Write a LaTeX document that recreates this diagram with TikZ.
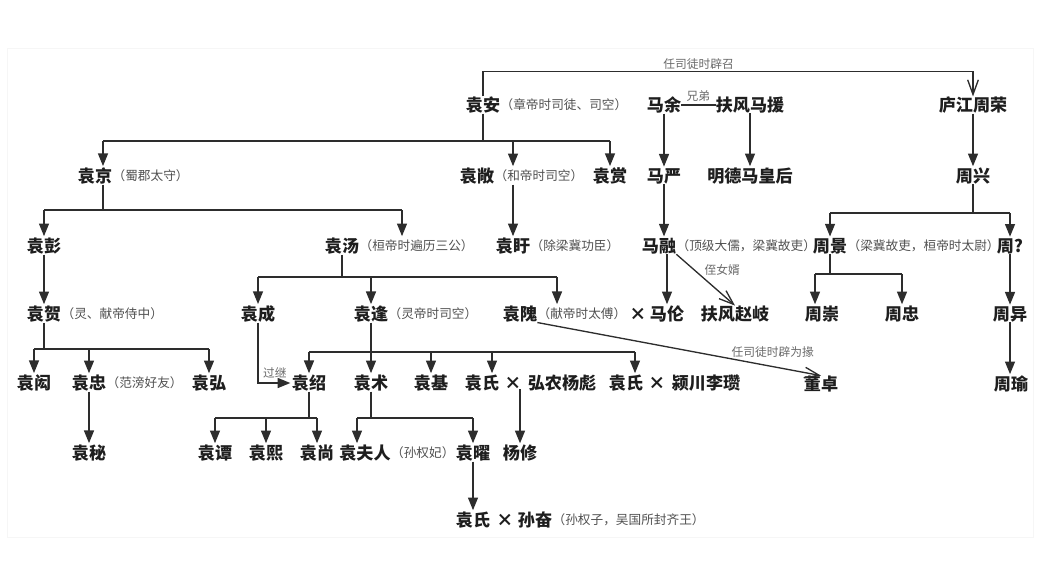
\documentclass[tikz,border=0pt]{standalone}
\usepackage{fontspec}
\setmainfont{Noto Sans CJK SC}
\usetikzlibrary{arrows.meta,positioning,calc}
\definecolor{ink}{RGB}{30,30,30}
\definecolor{wire}{RGB}{45,45,45}
\definecolor{soft}{RGB}{80,80,80}
\definecolor{faint}{RGB}{105,105,105}
\definecolor{edge}{RGB}{246,246,246}
\newcommand\renfont{\fontsize{12.8}{14}\selectfont\bfseries}
\newcommand\notefont{\fontsize{9.5}{11}\selectfont}
\newcommand\lblfont{\fontsize{8.8}{10}\selectfont}
\tikzset{
  ren/.style={font=\renfont, text=ink, inner sep=0pt},
  note/.style={font=\notefont, text=soft, inner sep=0pt},
  lbl/.style={font=\lblfont, text=faint, inner sep=1pt},
  tie/.style={draw=wire, line width=1pt},
  kid/.style={tie, -{Triangle[length=9.5pt,width=7.5pt]}, shorten >=1pt},
  link/.style={tie, -{Straight Barb[length=11pt,width=8pt]}},
}

\begin{document}
\begin{tikzpicture}[x=0.75pt, y=-0.75pt]
  \useasboundingbox (0,0) rectangle (1062,561);
  \draw[edge] (7,48) rectangle (1033,537);
  % people, row by row (px from the top left)
  \foreach \n/\x/\y/\t in {ya/483/105/袁安, my/664/105/马余, fmy/750/105/扶风马援, ljzr/973/105/庐江周荣,
    yj/95/176/袁京, yc/477/176/袁敞, ysh/610/176/袁赏, myan/664/176/马严, mdh/750/176/明德马皇后, zx/973/176/周兴,
    yp/44/246/袁彭, yt/342/246/袁汤, yx/513/246/袁盱, mr/659/246/马融, zj/830/246/周景, zq/1010/246/周?,
    yh/44/314/袁贺, ych/258/314/袁成, yf/371/314/袁逢, yw/520/314/袁隗, ml/667/314/马伦, zhq/735/314/扶风赵岐, zc/822/314/周崇, zz/902/314/周忠, zy/1010/314/周异,
    yhong/34/383/袁闳, yzh/89/383/袁忠, yhg/209/383/袁弘, ysa/309/383/袁绍, ysu/371/383/袁术, yji/431/383/袁基, ysi/482/383/袁氏, yb/562/383/弘农杨彪, ysj/626/383/袁氏, lz/706/383/颍川李瓒, dz/821/384/董卓, zyu/1011/384/周瑜,
    ymi/89/453/袁秘, ytan/215/453/袁谭, yxi/266/453/袁熙, ysg/317/453/袁尚, yfr/365/453/袁夫人, yyao/473/453/袁曜, yxiu/520/453/杨修,
    ysk/473/520/袁氏, sf/535/520/孙奋}
    \node[ren] (\n) at (\x,\y) {\t};
  \foreach \n/\x/\y in {xa/638/314, xb/513/383, xc/657/383, xd/505/520} \node[ren] (\n) at (\x,\y) {×};
  \foreach \n/\t in {ya/章帝时司徒、司空, yj/蜀郡太守, yc/和帝时司空, yt/桓帝时遍历三公, yx/除梁冀功臣, mr/顶级大儒，梁冀故吏,
    zj/梁冀故吏，桓帝时太尉, yh/灵、献帝侍中, yf/灵帝时司空, yw/献帝时太傅, yzh/范滂好友, yfr/孙权妃, sf/孙权子，吴国所封齐王}
    \node[note, right=0pt of \n] (\n-n) {（\t）};

  % buses and arrow feet that sit off the name
  \foreach \b/\y in {ba/141, bj/210, bx/213, bt/277, bz/274, bh/349, bf/352, bs/418} \coordinate (\b) at (0,\y);
  \coordinate (yj-in) at ($(yj.north)+(8,0)$);
  \coordinate (yc-in) at (yx.north |- yc.north);
  \coordinate (yt-in) at ($(yt.north)+(60,0)$);
  \coordinate (yw-in) at ($(yw.north)+(37,0)$);
  \coordinate (zc-in) at ($(zc.north)+(-7,0)$);
  \coordinate (ysi-in) at ($(ysi.north)+(10,0)$);
  \coordinate (ysj-in) at ($(ysj.north)+(9,0)$);
  \coordinate (yfr-in) at ($(yfr.north)+(-8,0)$);

  \draw[link] (ya.north) -- ++(0,-25) -| node[lbl, above, pos=0.22] {任司徒时辟召} (ljzr.north);
  \draw[tie] (my.east) -- node[lbl, above=1pt] {兄弟} (fmy.west);
  \foreach \a/\b in {my/myan, fmy/mdh, ljzr/zx} \draw[kid] (\a.south) -- (\b.north);

  % Yuan An
  \draw[tie] (ya.south) -- (ya.south |- ba);
  \draw[tie] (yj-in |- ba) -- (ysh.north |- ba);
  \foreach \c in {yj-in, yc-in, ysh.north} \draw[kid] (\c |- ba) -- (\c);
  \draw[kid] (yx.north |- yc.south) -- (yx.north);
  % Yuan Jing
  \draw[tie] (yj-in |- yj.south) -- (yj-in |- bj);
  \draw[tie] (yp.north |- bj) -- (yt-in |- bj);
  \foreach \c in {yp.north, yt-in} \draw[kid] (\c |- bj) -- (\c);
  % Zhou Xing
  \draw[tie] (zx.south) -- (zx.south |- bx);
  \draw[tie] (zj.north |- bx) -- (zq.north |- bx);
  \foreach \c in {zj, zq} \draw[kid] (\c.north |- bx) -- (\c.north);
  \draw[kid] (myan.south) -- (myan.south |- mr.north);
  % Yuan Tang
  \draw[tie] (yt.south) -- (yt.south |- bt);
  \draw[tie] (ych.north |- bt) -- (yw-in |- bt);
  \foreach \c in {ych.north, yf.north, yw-in} \draw[kid] (\c |- bt) -- (\c);
  \draw[kid] (yp.south) -- (yh.north);
  \draw[kid] (ml.north |- mr.south) -- (ml.north);
  \draw[link] (mr.south east) -- node[lbl, above right, pos=0.45] {侄女婿} (zhq.north);
  % Zhou Jing
  \draw[tie] (zj.south) -- (zj.south |- bz);
  \draw[tie] (zc-in |- bz) -- (zz.north |- bz);
  \foreach \c in {zc-in, zz.north} \draw[kid] (\c |- bz) -- (\c);
  \draw[kid] (zy.north |- zq.south) -- (zy.north);
  \draw[kid] (zy.south) -- (zy.south |- zyu.north);
  % Yuan He
  \draw[tie] (yh.south) -- (yh.south |- bh);
  \draw[tie] (yhong.north |- bh) -- (yhg.north |- bh);
  \foreach \c in {yhong, yzh, yhg} \draw[kid] (\c.north |- bh) -- (\c.north);
  \draw[kid] (yzh.south) -- (ymi.north);
  \draw[kid] (ych.south) |- node[lbl, above=2pt, pos=0.75] {过继} (ysa.west);
  % Yuan Feng
  \draw[tie] (yf.south) -- (yf.south |- bf);
  \draw[tie] (ysa.north |- bf) -- (ysj-in |- bf);
  \foreach \c in {ysa.north, ysu.north, yji.north, ysi-in, ysj-in} \draw[kid] (\c |- bf) -- (\c);
  \draw[link] (yw.south east) -- node[lbl, above=5pt, pos=0.83] {任司徒时辟为掾} (dz.north);
  \draw[kid] (yxiu.north |- xb.south) -- (yxiu.north);
  % Yuan Shao, Yuan Shu
  \draw[tie] (ysa.south) -- (ysa.south |- bs);
  \draw[tie] (ytan.north |- bs) -- (ysg.north |- bs);
  \foreach \c in {ytan, yxi, ysg} \draw[kid] (\c.north |- bs) -- (\c.north);
  \draw[tie] (ysu.south) -- (ysu.south |- bs);
  \draw[tie] (yfr-in |- bs) -- (yyao.north |- bs);
  \foreach \c in {yfr-in, yyao.north} \draw[kid] (\c |- bs) -- (\c);
  \draw[kid] (yyao.south) -- (ysk.north);
\end{tikzpicture}
\end{document}
